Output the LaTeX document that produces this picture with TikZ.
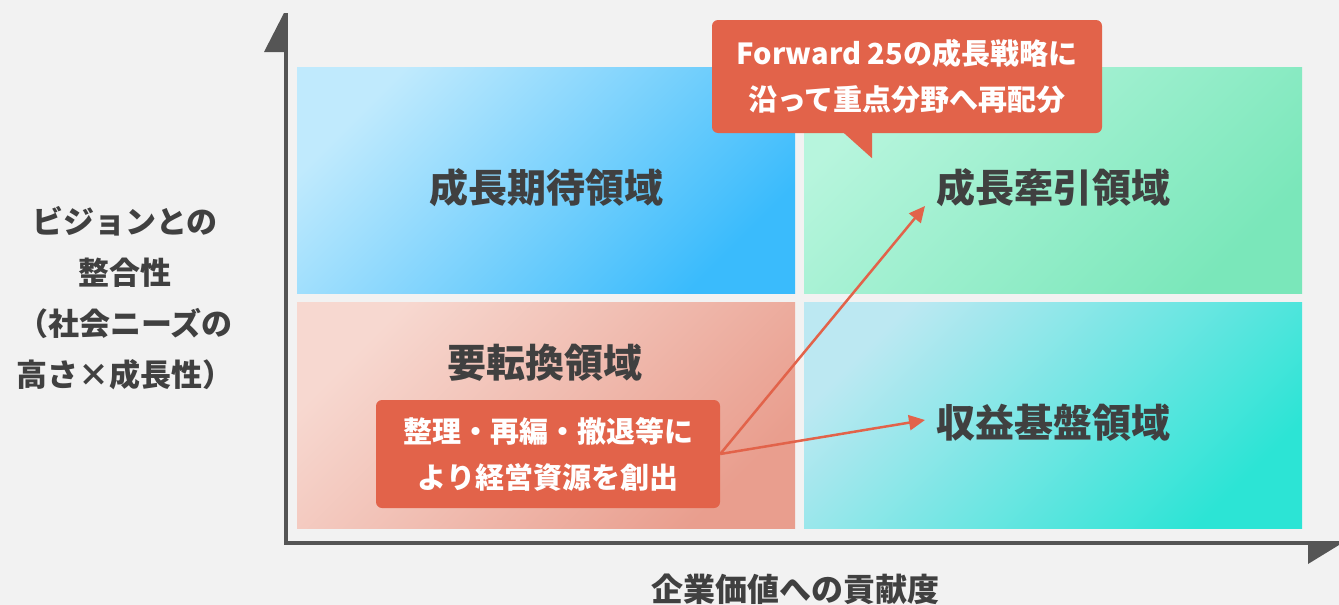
\documentclass[tikz,border=0pt]{standalone}
\usepackage{fontspec}
\setmainfont{Noto Sans CJK JP}
\usepackage{tikz}
\usetikzlibrary{
  arrows.meta,
  calc,
  positioning
}
\definecolor{papergray}{RGB}{242,242,242}
\definecolor{axisgray}{RGB}{85,85,85}
\definecolor{inkgray}{RGB}{64,64,64}
\definecolor{calloutred}{RGB}{226,99,74}
\definecolor{expectlight}{RGB}{192,234,253}
\definecolor{expectdark}{RGB}{58,187,252}
\definecolor{driverlight}{RGB}{183,245,221}
\definecolor{driverdark}{RGB}{122,231,186}
\definecolor{shiftlight}{RGB}{247,216,208}
\definecolor{shiftdark}{RGB}{233,158,142}
\definecolor{baselight}{RGB}{188,232,242}
\definecolor{basedark}{RGB}{44,228,213}
\tikzset{
  quadrant/.style 2 args={inner sep=0pt,minimum width=498pt,
    minimum height=226pt,top color=#1,bottom color=#2,shading angle=45},
  quadlab/.style={inner sep=0pt,text=inkgray,
    font=\bfseries\fontsize{39}{44}\selectfont},
  callout/.style={fill=calloutred,rounded corners=6pt,text=white,
    align=center,inner sep=0pt,font=\bfseries\fontsize{29}{46}\selectfont},
  axislab/.style={inner sep=0pt,text=inkgray,align=center,
    font=\bfseries\fontsize{31}{51}\selectfont},
  axis/.style={line width=4pt,draw=axisgray},
  moveflow/.style={-{Triangle[length=16pt,width=15pt]},line width=2.5pt,
    draw=calloutred}
}
\begin{document}
\begin{tikzpicture}[x=1pt,y=-1pt]
  \fill[papergray] (0,0) rectangle (1339,605);
  \useasboundingbox (0,0) rectangle (1339,605);
  \node[quadrant={expectlight}{expectdark}] (expect) at (546,180) {};
  \node[quadrant={driverlight}{driverdark}] (driver) at (1053,180) {};
  \node[quadrant={shiftlight}{shiftdark}] (shift) at (546,415.5) {};
  \node[quadrant={baselight}{basedark}] (base) at (1053,415.5) {};
  \node[quadlab] (expectlab) at (546,188) {成長期待領域};
  \node[quadlab] (driverlab) at (1053,188) {成長牽引領域};
  \node[quadlab] (shiftlab) at (545,363) {要転換領域};
  \node[quadlab] (baselab) at (1053,423) {収益基盤領域};
  \coordinate (ytop) at (286,13);
  \coordinate (origin) at (286,543);
  \coordinate (xend) at (1339,543);
  \draw[axis] (ytop) -- (origin) -- (xend);
  \fill[axisgray] ($(ytop)+(-2,0)$) -- ++(-20,39) -- ++(20,0) -- cycle;
  \fill[axisgray] ($(xend)+(0,2)$) -- ++(-31,0) -- ++(0,19) -- cycle;
  \node[axislab] (ylab) at (125,298) {ビジョンとの\\整合性\\（社会ニーズの\\高さ×成長性）};
  \node[axislab,font=\bfseries\fontsize{32}{36}\selectfont] (xlab) at (795,589) {企業価値への貢献度};
  \node[callout,minimum width=390pt,minimum height=113pt] (plan) at (907,76.5)
    {Forward 25の成長戦略に\\沿って重点分野へ再配分};
  \fill[calloutred] ($(plan.south)+(-64,-1)$) -- ($(plan.south)+(-35,-1)$)
    -- ($(plan.south)+(-35,25)$) -- cycle;
  \node[callout,minimum width=344pt,minimum height=108pt] (reorg) at (548,454)
    {整理・再編・撤退等に\\より経営資源を創出};
  \coordinate (tipA) at (925,206);
  \coordinate (tipB) at (925,420);
  \draw[moveflow] (reorg.east) -- (tipA);
  \draw[moveflow] (reorg.east) -- (tipB);
\end{tikzpicture}
\end{document}
